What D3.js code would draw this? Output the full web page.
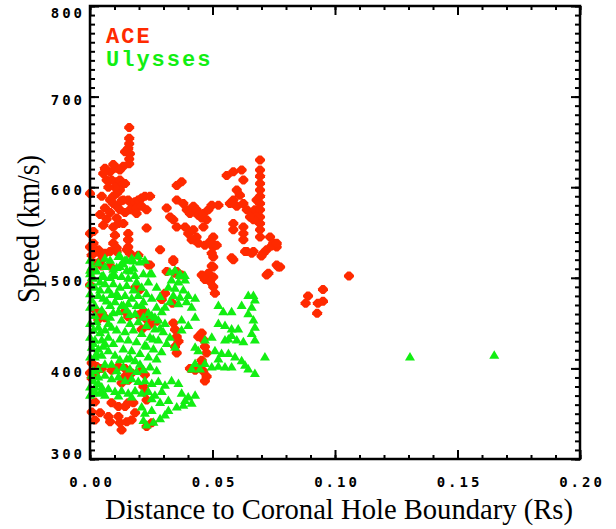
<!DOCTYPE html>
<html>
<head>
<meta charset="UTF-8">
<script src="https://d3js.org/d3.v7.min.js"></script>
<style>
    body { margin: 0; background: white; }
    .ticklab { font-family: "DejaVu Sans Mono", monospace; font-weight: bold; font-size: 14px; letter-spacing: 3px; }
    .title { font-family: "Liberation Serif", "Times New Roman", serif; font-size: 32px; }
    .legend { font-family: "Liberation Mono", "Courier New", monospace; font-weight: bold; font-size: 22px; letter-spacing: 2px; }
</style>
</head>
<body>
<svg id="chart" width="616" height="529"></svg>
<script>
// ACE points: distance (Rs) and speed (km/s)
const aceDist = [
    0.0160,0.0160,0.0160,0.0156,0.0143,0.0163,0.0160,0.0160,0.0136,0.0122,0.0109,0.0095,0.0082,0.0061,0.0054,0.0068,
    0.0088,0.0109,0.0122,0.0129,0.0143,0.0122,0.0109,0.0095,0.0082,0.0095,0.0061,0.0109,0.0122,0.0136,0.0156,0.0170,
    0.0184,0.0197,0.0211,0.0224,0.0245,0.0163,0.0190,0.0211,0.0231,0.0231,0.0190,0.0109,0.0095,0.0102,0.0054,0.0000,
    0.0000,0.0014,0.0000,0.0020,0.0041,0.0048,0.0095,0.0109,0.0156,0.0156,0.0156,0.0163,0.0197,0.0245,0.0286,0.0313,
    0.0327,0.0354,0.0374,0.0354,0.0381,0.0395,0.0408,0.0422,0.0435,0.0442,0.0456,0.0463,0.0340,0.0354,0.0388,0.0401,
    0.0422,0.0435,0.0463,0.0476,0.0483,0.0497,0.0524,0.0503,0.0490,0.0503,0.0503,0.0503,0.0503,0.0469,0.0456,0.0340,
    0.0354,0.0374,0.0558,0.0585,0.0619,0.0626,0.0599,0.0612,0.0585,0.0571,0.0599,0.0626,0.0640,0.0660,0.0673,0.0680,
    0.0694,0.0694,0.0694,0.0694,0.0694,0.0694,0.0694,0.0694,0.0694,0.0694,0.0694,0.0694,0.0680,0.0667,0.0653,0.0585,
    0.0585,0.0626,0.0626,0.0626,0.0640,0.0667,0.0707,0.0735,0.0748,0.0762,0.0728,0.0762,0.0769,0.0585,
    0.0000,0.0020,0.0048,0.0034,0.0061,0.0143,0.0156,0.0197,0.0218,0.0231,0.0238,0.0211,0.0252,0.0272,0.0204,0.0184,
    0.0293,0.0336,0.0306,0.0340,0.0347,0.0354,0.0361,0.0347,0.0354,0.0442,0.0462,0.0469,0.0476,0.0456,0.0449,0.0462,
    0.0476,0.0469,0.0456,0.0408,0.0429,0.0007,0.0027,0.0048,0.0000,0.0020,0.0007,0.0116,0.0143,0.0088,0.0143,0.0156,
    0.0129,0.0170,0.0211,0.0224,0.0218,0.0224,0.0231,0.0020,0.0007,0.0041,0.0020,0.0075,0.0082,0.0116,0.0122,0.0129,
    0.0150,0.0170,0.0184,0.0177,0.0143,0.0116,0.0088,0.0156,0.0231,0.0252,
    0.0014,0.0034,0.0007,0.0061,0.0082,0.0109,0.0150,0.0156,0.0340,0.0415,0.0442,0.0469,0.0497,0.0517,0.0497,0.0497,
    0.0483,0.0469,0.0490,0.0510,0.0503,0.0313,0.0347,0.0238,0.0082,0.0020,0.0048,0.0007,0.0578,0.0633,0.0660,0.0700,
    0.0721,0.0741,0.0762,0.0721,
    0.0041,0.0068,0.0082,0.0048,0.0116,0.0129,0.0143,0.0136,0.0102,0.0075,
    0.1057,0.0951,0.0951,0.0930,0.0927,0.0890,0.0880,0.0776
];
const aceSpeed = [
    666,654,648,643,639,637,631,626,623,619,621,625,617,621,615,608,
    608,606,608,602,604,597,593,590,586,582,577,579,575,586,586,582,
    584,586,588,590,590,575,577,579,575,555,571,566,556,547,558,593,
    549,551,534,529,527,520,538,529,549,542,534,527,525,514,531,577,
    567,602,606,586,582,575,571,579,575,569,566,571,564,556,556,549,
    553,545,556,564,575,580,580,545,540,534,523,512,501,501,503,520,
    507,503,613,617,619,608,597,591,586,582,579,582,575,571,575,586,
    630,619,612,604,597,590,582,575,567,560,553,545,567,564,567,560,
    553,556,549,542,529,529,527,545,538,534,505,514,512,520,
    492,465,461,454,456,463,457,459,463,454,447,443,450,452,487,489,
    476,472,483,450,443,435,430,424,417,435,432,424,417,409,402,397,
    391,386,439,400,398,406,402,400,395,395,389,402,400,398,391,387,
    384,395,398,393,380,373,365,363,352,351,343,347,341,347,340,332,
    341,343,351,362,358,358,362,362,336,340,
    538,531,525,527,529,533,531,542,518,542,538,536,538,536,527,513,
    505,498,496,483,490,507,505,514,513,516,513,507,522,529,527,524,
    531,535,538,503,
    570,565,572,590,560,585,572,560,600,600,
    502,487,474,472,461,480,472,512
];

// Ulysses points: distance (Rs) and speed (km/s)
const ulyDist = [
    0.0000,0.0000,0.0007,0.0122,0.0129,0.0150,0.0177,0.0204,0.0109,0.0095,0.0082,0.0054,0.0245,0.0326,0.0347,0.0367,0.0387,
    0.0007,0.0000,0.0014,0.0000,0.0020,0.0000,0.0034,0.0007,0.0000,0.0020,0.0000,0.0014,0.0000,0.0020,0.0007,0.0027,
    0.0000,0.0014,0.0000,0.0020,0.0000,0.0034,0.0041,0.0048,0.0048,0.0061,0.0041,0.0075,0.0054,0.0082,0.0034,0.0061,
    0.0048,0.0075,0.0061,0.0020,0.0048,
    0.0116,0.0143,0.0170,0.0122,0.0150,0.0177,0.0102,0.0129,0.0156,0.0184,0.0095,0.0122,0.0150,0.0177,0.0109,0.0143,
    0.0170,0.0197,0.0102,0.0129,0.0156,0.0190,0.0218,0.0252,0.0238,0.0211,0.0231,0.0252,0.0272,0.0293,0.0197,0.0224,
    0.0082,0.0061,
    0.0367,0.0333,0.0361,0.0388,0.0320,0.0347,0.0381,0.0340,0.0367,0.0401,0.0326,0.0361,0.0394,0.0415,0.0306,0.0429,
    0.0116,0.0150,0.0184,0.0218,0.0252,0.0279,0.0306,0.0129,0.0163,0.0197,0.0231,0.0265,0.0299,0.0326,0.0109,0.0143,
    0.0177,0.0211,0.0245,0.0279,0.0313,0.0347,0.0122,0.0156,0.0190,0.0224,0.0259,0.0292,0.0136,0.0170,0.0204,0.0238,
    0.0272,0.0095,0.0102,0.0150,0.0184,0.0082,0.0088,0.0429,0.0374,0.0401,0.0374,
    0.0524,0.0544,0.0578,0.0619,0.0646,0.0667,0.0673,0.0660,0.0646,0.0667,0.0673,0.0660,0.0673,0.0524,0.0551,0.0578,
    0.0605,0.0578,0.0565,0.0599,0.0626,0.0551,0.0497,0.0469,0.0442,0.0429,0.0510,0.0537,0.0524,0.0565,0.0592,0.0619,
    0.0633,0.0646,0.0673,0.0714,0.0578,0.0551,0.0524,0.0497,0.0469,0.0429,0.0449,0.0415,
    0.0007,0.0034,0.0061,0.0088,0.0116,0.0143,0.0170,0.0197,0.0224,0.0252,0.0279,0.0306,0.0333,0.0020,0.0048,0.0075,
    0.0102,0.0129,0.0156,0.0184,0.0211,0.0238,0.0265,0.0293,0.0061,0.0116,0.0170,0.0007,
    0.0252,0.0286,0.0320,0.0361,0.0374,0.0388,0.0415,0.0354,0.0320,0.0306,0.0286,0.0259,0.0231,0.0218,0.0224,0.0252,
    0.0211,0.0401,0.0429,0.0381,
    0.0027,0.0041,0.0020,0.0048,0.0061,0.0027,0.0041,0.0014,0.0034,0.0054,0.0075,0.0061,0.0034,0.0014,0.0088,0.0075,
    0.0095,0.0068,0.0088,0.0095,0.0034,0.0061,0.0109,0.0136,0.0163,0.0190,0.0218,0.0245,0.0272,0.0122,0.0163,0.0204,
    0.0231,0.0258,0.0286,0.0211,0.0238,0.0265,0.0163,0.0136,0.0116,0.0190,0.0218,0.0163,0.0136,0.0272,0.0286,
    0.1306,0.1650
];
const ulySpeed = [
    520,509,501,525,516,520,519,518,512,505,501,503,505,507,509,505,503,
    513,505,500,494,490,483,481,476,468,459,450,443,435,432,424,417,
    413,387,380,375,371,384,373,380,502,494,487,487,478,470,446,443,
    432,435,428,413,415,
    524,520,522,513,509,511,503,502,500,503,494,490,492,487,483,481,
    478,481,474,470,472,470,474,505,496,490,483,478,468,463,525,520,
    520,513,
    503,498,496,498,490,489,487,481,479,481,474,472,474,468,468,478,
    463,465,461,457,459,454,450,454,450,452,448,444,441,435,443,441,
    443,439,435,432,428,424,433,432,430,426,422,419,422,420,417,413,
    411,428,415,411,409,457,446,457,454,448,443,
    470,463,463,470,481,481,476,468,461,454,446,439,432,450,448,444,
    444,437,433,432,430,432,435,432,420,424,420,417,411,417,413,409,
    404,400,395,413,402,402,403,402,406,406,400,400,
    393,391,393,389,391,387,389,386,387,384,386,382,387,380,376,378,
    375,376,373,376,373,375,371,375,371,370,369,373,
    367,363,365,384,373,365,362,358,354,349,345,341,338,343,351,354,
    358,369,371,360,
    508,496,470,465,458,452,440,428,422,425,420,405,400,398,405,450,
    462,475,482,510,517,522,398,402,400,397,399,402,398,410,412,405,
    425,433,445,470,462,457,460,470,480,496,505,508,516,490,480,
    413,415
];

const xTicks = [0.00, 0.05, 0.10, 0.15, 0.20];
const yTicks = [300, 400, 500, 600, 700, 800];

const svg = d3.select("#chart");
const plotLeft = 90, plotRight = 580, plotTop = 6, plotBottom = 459;

const x = d3.scaleLinear().domain([0, 0.2]).range([plotLeft, plotRight]);
const y = d3.scaleLinear().domain([300, 800]).range([plotBottom, plotTop]);

const xMinor = d3.range(0, 0.2001, 0.01);
const yMinor = d3.range(300, 801, 10);

svg.append("rect").attr("width", 616).attr("height", 529).attr("fill", "white");

// markers
const diamond = "M-5,-1L-1.5,-4.5L1.5,-4.5L5,-1L5,1L1.5,4.5L-1.5,4.5L-5,1Z";
const triangle = "M-5,4L5,4L0,-4.5Z";

const ace = d3.zip(aceDist, aceSpeed);
const uly = d3.zip(ulyDist, ulySpeed);

svg.append("g").selectAll("path")
    .data(ace)
    .enter().append("path")
    .attr("d", diamond)
    .attr("transform", d => `translate(${x(d[0])},${y(d[1])})`)
    .attr("fill", "#ff2a00");

svg.append("g").selectAll("path")
    .data(uly)
    .enter().append("path")
    .attr("d", triangle)
    .attr("transform", d => `translate(${x(d[0])},${y(d[1])})`)
    .attr("fill", "#12ee12");

// axes: ticks point inward
function styleAxis(g) {
    g.select(".domain").remove();
    g.selectAll(".tick line").attr("stroke", "black").attr("stroke-width", 2);
}

svg.append("g").attr("transform", `translate(0,${plotBottom})`)
    .call(d3.axisBottom(x).tickValues(xMinor).tickSize(-4).tickFormat(""))
    .call(styleAxis);
svg.append("g").attr("transform", `translate(0,${plotTop})`)
    .call(d3.axisTop(x).tickValues(xMinor).tickSize(-4).tickFormat(""))
    .call(styleAxis);
svg.append("g").attr("transform", `translate(${plotLeft},0)`)
    .call(d3.axisLeft(y).tickValues(yMinor).tickSize(-5).tickFormat(""))
    .call(styleAxis);
svg.append("g").attr("transform", `translate(${plotRight},0)`)
    .call(d3.axisRight(y).tickValues(yMinor).tickSize(-5).tickFormat(""))
    .call(styleAxis);

const xAxis = svg.append("g").attr("transform", `translate(0,${plotBottom})`)
    .call(d3.axisBottom(x).tickValues(xTicks).tickSize(-9).tickPadding(18).tickFormat(d3.format(".2f")))
    .call(styleAxis);
xAxis.selectAll("text").attr("class", "ticklab").attr("fill", "black").attr("dx", 1.5);
svg.append("g").attr("transform", `translate(0,${plotTop})`)
    .call(d3.axisTop(x).tickValues(xTicks).tickSize(-9).tickFormat(""))
    .call(styleAxis);

const yAxis = svg.append("g").attr("transform", `translate(${plotLeft},0)`)
    .call(d3.axisLeft(y).tickValues(yTicks).tickSize(-9).tickPadding(5))
    .call(styleAxis);
yAxis.selectAll("text").attr("class", "ticklab").attr("fill", "black")
    .attr("dy", d => d === 800 ? "0.85em" : d === 300 ? "-0.05em" : "0.55em");
svg.append("g").attr("transform", `translate(${plotRight},0)`)
    .call(d3.axisRight(y).tickValues(yTicks).tickSize(-9).tickFormat(""))
    .call(styleAxis);

// frame
svg.append("rect")
    .attr("x", plotLeft).attr("y", plotTop)
    .attr("width", plotRight - plotLeft).attr("height", plotBottom - plotTop)
    .attr("fill", "none").attr("stroke", "black").attr("stroke-width", 2.5);

// titles
svg.append("text").attr("class", "title")
    .style("font-size", "30px")
    .attr("x", 105).attr("y", 519)
    .attr("textLength", 468).attr("lengthAdjust", "spacingAndGlyphs")
    .text("Distance to Coronal Hole Boundary (Rs)");

svg.append("text").attr("class", "title")
    .attr("transform", "translate(39,303) rotate(-90)")
    .attr("textLength", 148).attr("lengthAdjust", "spacingAndGlyphs")
    .text("Speed (km/s)");

// legend
svg.append("text").attr("class", "legend").attr("x", 106).attr("y", 43)
    .attr("fill", "#ff2a00").text("ACE");
svg.append("text").attr("class", "legend").attr("x", 106).attr("y", 66)
    .attr("fill", "#12ee12").text("Ulysses");
</script>
</body>
</html>
